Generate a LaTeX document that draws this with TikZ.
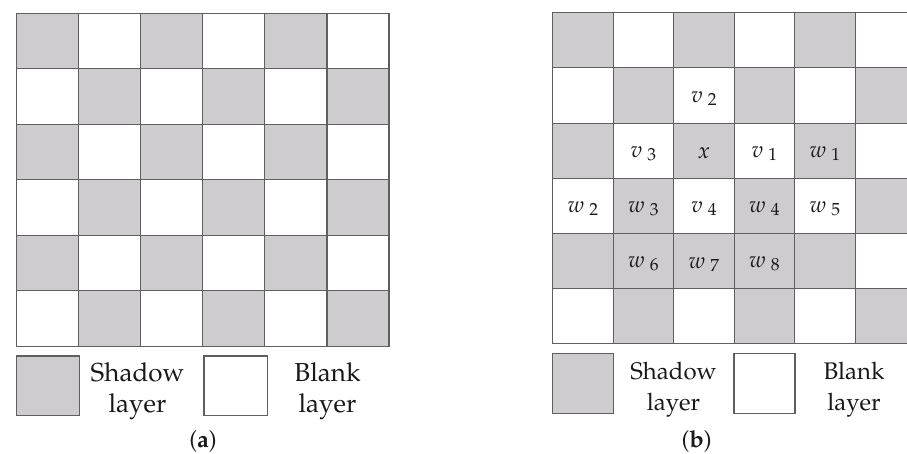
\documentclass[tikz,border=0pt]{standalone}
\usepackage[T1]{fontenc}
\usepackage{mathpazo}
\definecolor{shade}{RGB}{206,204,207}
\definecolor{linec}{RGB}{95,95,95}
\definecolor{txt}{RGB}{25,25,25}
\tikzset{
  cellbase/.style={draw=linec, line width=1.1pt, inner sep=0pt, outer sep=0pt},
  cellA/.style={cellbase, minimum width=62.05pt, minimum height=55.5pt},
  cellB/.style={cellbase, minimum width=60.5pt, minimum height=55.2pt},
  lab/.style={inner sep=0pt, text=txt, font=\fontsize{22.5}{26}\selectfont},
  legA/.style={text=txt, inner sep=0pt, anchor=base, font=\fontsize{26}{30}\selectfont},
  legB/.style={text=txt, inner sep=0pt, anchor=base, font=\fontsize{24}{28}\selectfont},
  subcap/.style={text=txt, inner sep=0pt, anchor=base, font=\fontsize{23.5}{26}\selectfont},
}
\newcommand\lbl[2]{$#1$\kern5pt\raisebox{-3pt}{\fontsize{17.5}{17.5}\selectfont #2}}
\begin{document}
\begin{tikzpicture}[x=1pt,y=-1pt]
\useasboundingbox (0,0) rectangle (907,454);
\clip (0,0) rectangle (907,454);
% grid (a)
\foreach \r in {0,...,5}{\foreach \c in {0,...,5}{
  \pgfmathtruncatemacro\pp{mod(\r+\c,2)}
  \ifnum\pp=0 \def\fc{shade}\else\def\fc{white}\fi
  \node[cellA, fill=\fc] (a\r\c) at ({16.7+62.05*(\c+0.5)},{13.3+55.5*(\r+0.5)}) {};
}}
% grid (b)
\foreach \r in {0,...,5}{\foreach \c in {0,...,6}{
  \pgfmathtruncatemacro\pp{(mod(\r+\c,2)==0) || (\r==4 && (\c==1 || \c==3))}
  \ifnum\pp=1 \def\fc{shade}\else\def\fc{white}\fi
  \node[cellB, fill=\fc] (b\r\c) at ({552.7+60.5*(\c+0.5)},{12.7+55.2*(\r+0.5)}) {};
}}
% labels in (b)
\node[lab] (lv2) at ([yshift=-3pt]b12.center) {\lbl{v}{2}};
\node[lab] (lv3) at ([yshift=-3pt]b21.center) {\lbl{v}{3}};
\node[lab] (lx)  at ([yshift=-2pt]b22.center) {$x$};
\node[lab] (lv1) at ([yshift=-3pt]b23.center) {\lbl{v}{1}};
\node[lab] (lw1) at ([yshift=-3pt]b24.center) {\lbl{w}{1}};
\node[lab] (lw2) at ([yshift=-3pt]b30.center) {\lbl{w}{2}};
\node[lab] (lw3) at ([yshift=-3pt]b31.center) {\lbl{w}{3}};
\node[lab] (lv4) at ([yshift=-3pt]b32.center) {\lbl{v}{4}};
\node[lab] (lw4) at ([yshift=-3pt]b33.center) {\lbl{w}{4}};
\node[lab] (lw5) at ([yshift=-3pt]b34.center) {\lbl{w}{5}};
\node[lab] (lw6) at ([yshift=-3pt]b41.center) {\lbl{w}{6}};
\node[lab] (lw7) at ([yshift=-3pt]b42.center) {\lbl{w}{7}};
\node[lab] (lw8) at ([yshift=-3pt]b43.center) {\lbl{w}{8}};
% legend (a)
\node[cellbase, fill=shade, minimum width=62.6pt, minimum height=59.7pt] (sha) at (48,385.8) {};
\node[cellbase, fill=white, minimum width=63.7pt, minimum height=59.7pt] (bla) at (235.8,385.8) {};
\node[legA] (sha1) at (137.5,381.7) {Shadow};
\node[legA] (sha2) at (137.5,412.7) {layer};
\node[legA] (bla1) at (327.5,381.7) {Blank};
\node[legA] (bla2) at (327.5,412.7) {layer};
\node[subcap] (capa) at (203,447) {(\textbf{a})};
% legend (b)
\node[cellbase, fill=shade, minimum width=60.6pt, minimum height=60pt] (shb) at (583,383.3) {};
\node[cellbase, fill=white, minimum width=61pt, minimum height=60pt] (blb) at (764.5,383.3) {};
\node[legB] (shb1) at (673.5,379.3) {Shadow};
\node[legB] (shb2) at (673.5,410) {layer};
\node[legB] (blb1) at (854,379.3) {Blank};
\node[legB] (blb2) at (854,410) {layer};
\node[subcap] (capb) at (696.7,447) {(\textbf{b})};
\end{tikzpicture}
\end{document}
